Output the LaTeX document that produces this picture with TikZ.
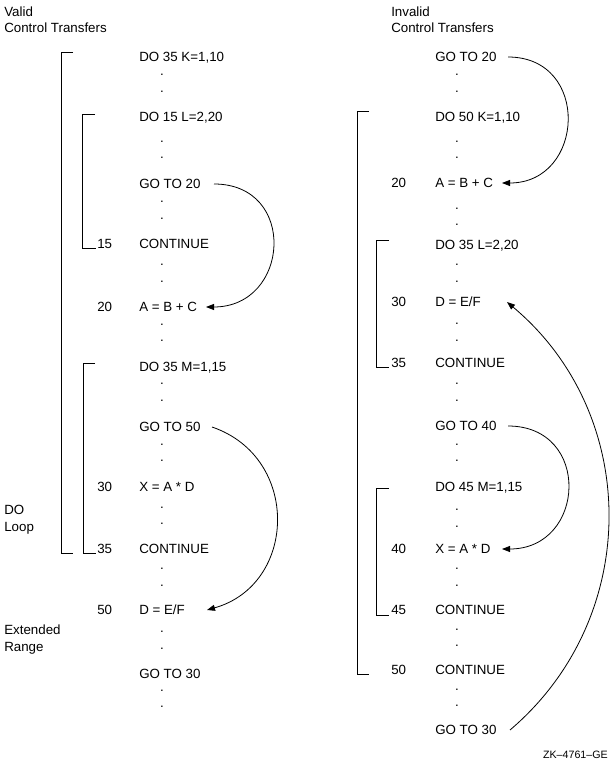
\documentclass[tikz,border=0pt]{standalone}
\usepackage{fontspec}
\setmainfont{Liberation Sans}
\usetikzlibrary{arrows.meta,calc}
\begin{document}
\begin{tikzpicture}[x=0.75pt,y=-0.75pt,
  txt/.style={anchor=west,inner sep=0pt,text height=7.2pt,text depth=0pt,font=\fontsize{10}{12}\selectfont},
  dotst/.style={inner sep=0pt,font=\fontsize{10}{12}\selectfont},
  brk/.style={line width=0.7pt},
  jump/.style={line width=0.6pt,-{Triangle[length=6pt,width=4.5pt]}},
]
\useasboundingbox (0,0) rectangle (616,766);

% ---------- left column ----------
\node[txt] (vt1) at (4,12) {Valid};
\node[txt] (vt2) at (4,28) {Control Transfers};
\node[txt] (L1) at (139,57) {DO 35 K=1,10};
\node[txt] (L2) at (139,117) {DO 15 L=2,20};
\node[txt] (L3) at (139,184) {GO TO 20};
\node[txt] (L4n) at (97,244) {15};
\node[txt] (L4) at (139,244) {CONTINUE};
\node[txt] (L5n) at (97,307) {20};
\node[txt] (L5) at (139,307) {A = B + C};
\node[txt] (L6) at (139,367) {DO 35 M=1,15};
\node[txt] (L7) at (139,427) {GO TO 50};
\node[txt] (L8n) at (97,487) {30};
\node[txt] (L8) at (139,487) {X = A * D};
\node[txt] (L9n) at (97,549) {35};
\node[txt] (L9) at (139,549) {CONTINUE};
\node[txt] (L10n) at (97,610) {50};
\node[txt] (L10) at (139,610) {D = E/F};
\node[txt] (L11) at (139,674) {GO TO 30};
\node[txt] (lp1) at (4,510) {DO};
\node[txt] (lp2) at (4,527) {Loop};
\node[txt] (ex1) at (4,630) {Extended};
\node[txt] (ex2) at (4,647) {Range};

\foreach \y in {75,92,142,158,202,219,265,282,325,341,384,401,445,461,508,524,569,586,632,649,691,707}
  \node[dotst] (dl\y) at (162,\y) {.};

\draw[brk] (73,52) -- (61,52) -- (61,553) -- (73,553);
\draw[brk] (95,114) -- (82,114) -- (82,248) -- (96,248);
\draw[brk] (95,363) -- (83,363) -- (83,553) -- (96,553);

\draw[jump] ($(L3.west)+(75,0)$) .. controls +(84,0) and +(84,0) .. ($(L5.west)+(67,0)$);
\draw[jump] ($(L7.west)+(73,0)$) .. controls +(88.8,30.3) and +(90.2,-25.5) .. ($(L10.west)+(68,0)$);

% ---------- right column ----------
\node[txt] (it1) at (391,12) {Invalid};
\node[txt] (it2) at (391,28) {Control Transfers};
\node[txt] (R1) at (435,57) {GO TO 20};
\node[txt] (R2) at (435,117) {DO 50 K=1,10};
\node[txt] (R3n) at (391,183) {20};
\node[txt] (R3) at (435,183) {A = B + C};
\node[txt] (R4) at (435,245) {DO 35 L=2,20};
\node[txt] (R5n) at (391,302) {30};
\node[txt] (R5) at (435,302) {D = E/F};
\node[txt] (R6n) at (391,363) {35};
\node[txt] (R6) at (435,363) {CONTINUE};
\node[txt] (R7) at (435,426) {GO TO 40};
\node[txt] (R8) at (435,487) {DO 45 M=1,15};
\node[txt] (R9n) at (391,549) {40};
\node[txt] (R9) at (435,549) {X = A * D};
\node[txt] (R10n) at (391,610) {45};
\node[txt] (R10) at (435,610) {CONTINUE};
\node[txt] (R11n) at (391,670) {50};
\node[txt] (R11) at (435,670) {CONTINUE};
\node[txt] (R12) at (435,730) {GO TO 30};

\foreach \y in {75,92,142,158,209,225,265,282,324,341,384,401,445,461,510,527,569,586,630,646,690,706}
  \node[dotst] (dr\y) at (457,\y) {.};

\draw[brk] (369,111) -- (357,111) -- (357,674) -- (369,674);
\draw[brk] (389,240) -- (376,240) -- (376,367) -- (389,367);
\draw[brk] (389,488) -- (376,488) -- (376,615) -- (389,615);

\draw[jump] ($(R1.west)+(73,0)$) .. controls +(83,0) and +(83,0) .. ($(R3.west)+(67,0)$);
\draw[jump] ($(R7.west)+(73,0)$) .. controls +(84,0) and +(84,0) .. ($(R9.west)+(67,0)$);
\draw[jump] ($(R12.west)+(75,0)$) .. controls +(132.6,-112.8) and +(133.5,111.7) .. ($(R5.west)+(72,0)$);

\node[anchor=east,inner sep=0pt,font=\fontsize{8}{9}\selectfont] (zk) at (608,755) {ZK–4761–GE};
\end{tikzpicture}
\end{document}
